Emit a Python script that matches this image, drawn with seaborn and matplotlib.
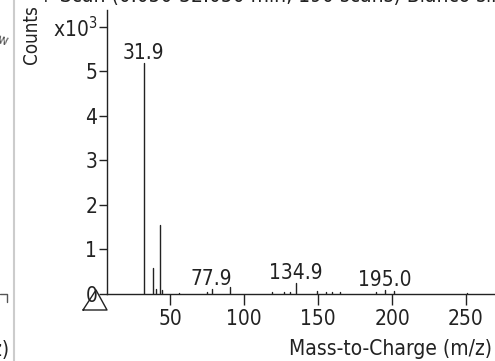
import numpy as np
import pandas as pd
import matplotlib.pyplot as plt
import seaborn as sns
from matplotlib.lines import Line2D

# peak list (m/z, counts in thousands)
mz = [31.9, 38.2, 40.1, 43.1, 44.3, 55.5, 74.8, 77.9, 90.6, 119.0, 127.0,
      131.0, 134.9, 149.0, 155.5, 159.5, 165.0, 189.0, 195.0, 201.5, 250.5]
counts = [5.2, 0.58, 0.12, 1.55, 0.08, 0.03, 0.05, 0.12, 0.16, 0.05, 0.05,
          0.05, 0.24, 0.06, 0.05, 0.04, 0.04, 0.05, 0.08, 0.06, 0.03]
labelled = ['31.9', '77.9', '134.9', '195.0']

x_ticks = [50, 100, 150, 200, 250]
y_ticks = [0, 1, 2, 3, 4, 5, 6]
y_ticklabels = ['0', '1', '2', '3', '4', '5', 'x10$^3$']

# two points per stick so seaborn draws each peak as a vertical line
rows = []
for i, (m, c) in enumerate(zip(mz, counts)):
    rows.append({'peak': i, 'mz': m, 'counts': 0.0})
    rows.append({'peak': i, 'mz': m, 'counts': c})
spec = pd.DataFrame(rows)

sns.set_theme(style='white')
plt.rcParams['font.family'] = ['DejaVu Sans']
plt.rcParams['font.stretch'] = 'condensed'
plt.rcParams['mathtext.fontset'] = 'custom'
plt.rcParams['mathtext.rm'] = 'DejaVu Sans:stretch=condensed'
fs = 15

fig = plt.figure(figsize=(4.95, 3.61), dpi=100)
ax = fig.add_axes([107 / 495, 1 - 294 / 361, 1 - 107 / 495 + 0.01, (294 - 10) / 361])

sns.lineplot(data=spec, x='mz', y='counts', units='peak', estimator=None,
             sort=False, color='#222222', lw=1.0, ax=ax, legend=False)

for m, c in zip(mz, counts):
    lab = '%.1f' % m
    if lab in labelled:
        ax.annotate(lab, (m, c), xytext=(0, 0), textcoords='offset points',
                    ha='center', va='bottom', fontsize=fs, color='#222222')

ax.set_xlim(7.1, 273)
ax.set_ylim(0, 6.38)
ax.set_xticks(x_ticks)
ax.set_yticks(y_ticks)
ax.set_yticklabels(y_ticklabels)
ax.tick_params(axis='both', labelsize=fs, colors='#222222', length=6, width=1,
               direction='out', pad=1)
ax.tick_params(axis='x', length=8, pad=3)
ax.tick_params(bottom=True, left=True)
for s in ['top', 'right']:
    ax.spines[s].set_visible(False)
for s in ['left', 'bottom']:
    ax.spines[s].set_color('#222222')
    ax.spines[s].set_linewidth(1.0)
ax.set_xlabel('')
ax.set_ylabel('')

fig.text(492 / 495, 1 - 349 / 361, 'Mass-to-Charge (m/z)', ha='right', va='center',
         fontsize=fs, color='#222222')
fig.text(32 / 495, 1 - 35 / 361, 'Counts', rotation=90, ha='center', va='center',
         fontsize=13.5, color='#222222')
# title, cut off at the top of the screenshot
fig.text(38 / 495, 1 + 4 / 361, '+ Scan (0.050-32.050 min, 190 scans) Blanco sin',
         ha='left', va='center', fontsize=fs, color='#222222')

# triangle marker under the origin
tri_x = np.array([83, 107, 96, 83]) / 495
tri_y = 1 - np.array([310, 310, 290, 310]) / 361
fig.add_artist(Line2D(tri_x, tri_y, color='#222222', lw=1.0))

# edge of neighbouring panel on the left
fig.add_artist(Line2D([14 / 495, 14 / 495], [0, 1], color='#cccccc', lw=1.5))
fig.add_artist(Line2D([0, 7 / 495, 7 / 495], [1 - 294 / 361, 1 - 294 / 361, 1 - 302 / 361],
                      color='#555555', lw=1.0))
fig.text(9 / 495, 1 - 350 / 361, '(m/z)', ha='right', va='center', fontsize=fs, color='#222222')
fig.text(9 / 495, 1 - 40 / 361, 'w', ha='right', va='center', fontsize=10,
         color='#555555', rotation=-15)

fig.savefig('out.png', dpi=100)
